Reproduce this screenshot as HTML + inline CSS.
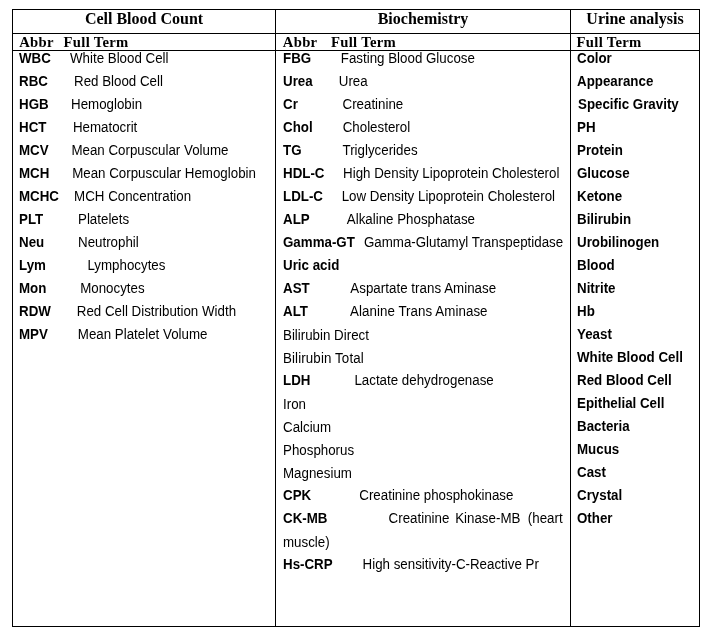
<!DOCTYPE html>
<html><head><meta charset="utf-8"><title>Lab abbreviations</title><style>
html,body{margin:0;padding:0;background:#fff;width:711px;height:633px;overflow:hidden}
#w{position:absolute;left:0;top:0;width:711px;height:633px;background:#fff;will-change:transform}
.l{position:absolute;background:#000}
.s,.h,.hh{position:absolute;white-space:nowrap;color:#000;line-height:16px}
.s{font-family:"Liberation Sans",Arial,sans-serif;font-size:13.33px;transform:scaleY(1.07);transform-origin:0 12px}
.b{font-weight:bold}
.h{font-family:"Liberation Serif","Times New Roman",serif;font-size:16px;font-weight:bold;text-align:center}
.hh{font-family:"Liberation Serif","Times New Roman",serif;font-size:14.67px;font-weight:bold;letter-spacing:0.3px}
</style></head><body><div id="w">
<div class="l" style="left:12px;top:9px;width:688px;height:1px"></div>
<div class="l" style="left:12px;top:33px;width:688px;height:1px"></div>
<div class="l" style="left:12px;top:50px;width:688px;height:1px"></div>
<div class="l" style="left:12px;top:626px;width:688px;height:1px"></div>
<div class="l" style="left:12px;top:9px;width:1px;height:618px"></div>
<div class="l" style="left:275px;top:9px;width:1px;height:618px"></div>
<div class="l" style="left:570px;top:9px;width:1px;height:618px"></div>
<div class="l" style="left:699px;top:9px;width:1px;height:618px"></div>
<div class="h" style="left:13px;width:262px;top:11px">Cell Blood Count</div>
<div class="h" style="left:276px;width:294px;top:11px">Biochemistry</div>
<div class="h" style="left:571px;width:128px;top:11px">Urine analysis</div>
<div class="hh" style="left:19.2px;top:34px">Abbr</div>
<div class="hh" style="left:63.6px;top:34px">Full Term</div>
<div class="hh" style="left:282.8px;top:34px">Abbr</div>
<div class="hh" style="left:331px;top:34px">Full Term</div>
<div class="hh" style="left:576.6px;top:34px">Full Term</div>
<div class="s b" style="left:19px;top:51px">WBC</div>
<div class="s" style="left:70px;top:51px">White Blood Cell</div>
<div class="s b" style="left:19px;top:74px">RBC</div>
<div class="s" style="left:74px;top:74px">Red Blood Cell</div>
<div class="s b" style="left:19px;top:97px">HGB</div>
<div class="s" style="left:71px;top:97px">Hemoglobin</div>
<div class="s b" style="left:19px;top:120px">HCT</div>
<div class="s" style="left:72.9px;top:120px">Hematocrit</div>
<div class="s b" style="left:19px;top:143px">MCV</div>
<div class="s" style="left:71.4px;top:143px">Mean Corpuscular Volume</div>
<div class="s b" style="left:19px;top:166px">MCH</div>
<div class="s" style="left:72.2px;top:166px">Mean Corpuscular Hemoglobin</div>
<div class="s b" style="left:19px;top:189px">MCHC</div>
<div class="s" style="left:74.1px;top:189px">MCH Concentration</div>
<div class="s b" style="left:19px;top:212px">PLT</div>
<div class="s" style="left:78.0px;top:212px">Platelets</div>
<div class="s b" style="left:19px;top:235px">Neu</div>
<div class="s" style="left:78.0px;top:235px">Neutrophil</div>
<div class="s b" style="left:19px;top:258px">Lym</div>
<div class="s" style="left:87.4px;top:258px">Lymphocytes</div>
<div class="s b" style="left:19px;top:281px">Mon</div>
<div class="s" style="left:80.2px;top:281px">Monocytes</div>
<div class="s b" style="left:19px;top:304px">RDW</div>
<div class="s" style="left:76.8px;top:304px">Red Cell Distribution Width</div>
<div class="s b" style="left:19px;top:327px">MPV</div>
<div class="s" style="left:77.8px;top:327px">Mean Platelet Volume</div>
<div class="s b" style="left:283px;top:51px">FBG</div>
<div class="s" style="left:340.8px;top:51px">Fasting Blood Glucose</div>
<div class="s b" style="left:283px;top:74px">Urea</div>
<div class="s" style="left:338.8px;top:74px">Urea</div>
<div class="s b" style="left:283px;top:97px">Cr</div>
<div class="s" style="left:342.5px;top:97px">Creatinine</div>
<div class="s b" style="left:283px;top:120px">Chol</div>
<div class="s" style="left:342.7px;top:120px">Cholesterol</div>
<div class="s b" style="left:283px;top:143px">TG</div>
<div class="s" style="left:342.5px;top:143px">Triglycerides</div>
<div class="s b" style="left:283px;top:166px">HDL-C</div>
<div class="s" style="left:343.1px;top:166px">High Density Lipoprotein Cholesterol</div>
<div class="s b" style="left:283px;top:189px">LDL-C</div>
<div class="s" style="left:341.7px;top:189px">Low Density Lipoprotein Cholesterol</div>
<div class="s b" style="left:283px;top:212px">ALP</div>
<div class="s" style="left:346.8px;top:212px">Alkaline Phosphatase</div>
<div class="s b" style="left:283px;top:235px">Gamma-GT</div>
<div class="s" style="left:363.9px;top:235px">Gamma-Glutamyl Transpeptidase</div>
<div class="s b" style="left:283px;top:258px">Uric acid</div>
<div class="s b" style="left:283px;top:281px">AST</div>
<div class="s" style="left:350.3px;top:281px;letter-spacing:0.03px">Aspartate trans Aminase</div>
<div class="s b" style="left:283px;top:304px">ALT</div>
<div class="s" style="left:350px;top:304px;letter-spacing:0.06px">Alanine Trans Aminase</div>
<div class="s" style="left:283px;top:328px">Bilirubin Direct</div>
<div class="s" style="left:283px;top:351px;letter-spacing:0.12px">Bilirubin Total</div>
<div class="s b" style="left:283px;top:373px">LDH</div>
<div class="s" style="left:354.4px;top:373px">Lactate dehydrogenase</div>
<div class="s" style="left:283px;top:397px">Iron</div>
<div class="s" style="left:283px;top:420px">Calcium</div>
<div class="s" style="left:283px;top:443px">Phosphorus</div>
<div class="s" style="left:283px;top:466px">Magnesium</div>
<div class="s b" style="left:283px;top:488px">CPK</div>
<div class="s" style="left:359.3px;top:488px">Creatinine phosphokinase</div>
<div class="s b" style="left:283px;top:511px">CK-MB</div>
<div class="s" style="left:388.6px;top:511px">Creatinine</div>
<div class="s" style="left:283px;top:535px">muscle)</div>
<div class="s b" style="left:283px;top:557px">Hs-CRP</div>
<div class="s" style="left:362.6px;top:557px">High sensitivity-C-Reactive Pr</div>
<div class="s" style="left:455.2px;top:511px">Kinase-MB</div>
<div class="s" style="left:527.8px;top:511px">(heart</div>
<div class="s b" style="left:577px;top:51px">Color</div>
<div class="s b" style="left:577px;top:74px">Appearance</div>
<div class="s b" style="left:578px;top:97px">Specific Gravity</div>
<div class="s b" style="left:577px;top:120px">PH</div>
<div class="s b" style="left:577px;top:143px">Protein</div>
<div class="s b" style="left:577px;top:166px">Glucose</div>
<div class="s b" style="left:577px;top:189px">Ketone</div>
<div class="s b" style="left:577px;top:212px">Bilirubin</div>
<div class="s b" style="left:577px;top:235px">Urobilinogen</div>
<div class="s b" style="left:577px;top:258px">Blood</div>
<div class="s b" style="left:577px;top:281px">Nitrite</div>
<div class="s b" style="left:577px;top:304px">Hb</div>
<div class="s b" style="left:577px;top:327px">Yeast</div>
<div class="s b" style="left:577px;top:350px">White Blood Cell</div>
<div class="s b" style="left:577px;top:373px">Red Blood Cell</div>
<div class="s b" style="left:577px;top:396px">Epithelial Cell</div>
<div class="s b" style="left:577px;top:419px">Bacteria</div>
<div class="s b" style="left:577px;top:442px">Mucus</div>
<div class="s b" style="left:577px;top:465px">Cast</div>
<div class="s b" style="left:577px;top:488px">Crystal</div>
<div class="s b" style="left:577px;top:511px">Other</div>
</div></body></html>
